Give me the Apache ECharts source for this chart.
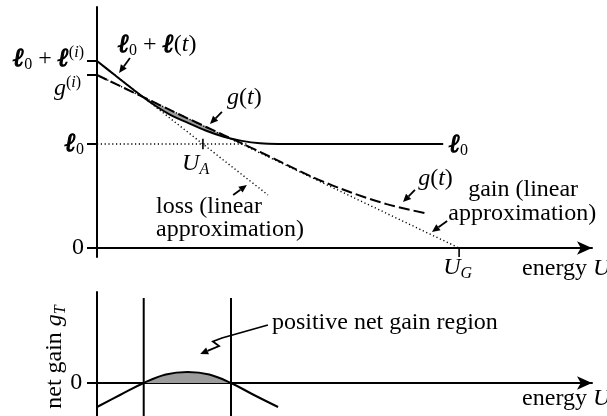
<!DOCTYPE html>
<html>
<head>
<meta charset="utf-8">
<script src="https://cdn.jsdelivr.net/npm/echarts@6/dist/echarts.min.js"></script>
<style>
  html, body { margin: 0; padding: 0; background: #fff; }
  #chart { width: 607px; height: 416px; }
</style>
</head>
<body>
<div id="chart"></div>
<script>
// Energy U is measured in units of U_G, loss/gain in units of l0.
const energy    = [0, 0.05, 0.10, 0.15, 0.20, 0.25, 0.30, 0.35, 0.40, 0.45, 0.50, 0.956];
const lossTotal = [1.798, 1.66, 1.524, 1.394, 1.285, 1.205, 1.13, 1.07, 1.03, 1.006, 1.0, 1.0];
const gainEnergy = [0, 0.05, 0.10, 0.15, 0.20, 0.25, 0.30, 0.35, 0.40, 0.45, 0.50, 0.60, 0.70, 0.80, 0.912];
const gainValues = [1.663, 1.580, 1.497, 1.414, 1.330, 1.247, 1.166, 1.086, 1.006, 0.924, 0.840, 0.674, 0.536, 0.422, 0.33];
const lossLinear = [[0, 1.798], [0.472, 0.51]];
const gainLinear = [[0, 1.663], [1.0, 0]];
const l0 = 1.0;
const lossInit = 1.798;
const gainInit = 1.663;
const U_A = 0.2925;
const U_G = 1.0;
// net gain g_T = g - l (arbitrary units)
const netEnergy = [0, 0.0635, 0.129, 0.19, 0.25, 0.31, 0.37, 0.4335, 0.5];
const netGain   = [-2.4, -1.2, 0, 0.85, 1.1, 0.85, 0, -1.2, -2.4];
const netZeros  = [0.129, 0.37];

const FONT = '"Liberation Serif","Times New Roman",serif';
const BLACK = '#000';
const SHADE = '#9c9c9c';

const zip = (xs, ys) => xs.map((x, i) => [x, ys[i]]);
function interp(xs, ys, x) {
  for (let i = 0; i < xs.length - 1; i++) {
    if (x >= xs[i] && x <= xs[i + 1]) {
      const t = (x - xs[i]) / (xs[i + 1] - xs[i]);
      return ys[i] + t * (ys[i + 1] - ys[i]);
    }
  }
  return ys[ys.length - 1];
}

// Region where gain exceeds loss: bounded by the two crossings
function shadeRegion() {
  const xs = energy.filter(u => u <= 0.5);
  const diff = xs.map(u => interp(gainEnergy, gainValues, u) - interp(energy, lossTotal, u));
  const cross = [];
  for (let i = 0; i < xs.length - 1; i++) {
    if ((diff[i] <= 0 && diff[i + 1] > 0) || (diff[i] > 0 && diff[i + 1] <= 0)) {
      cross.push(xs[i] + (xs[i + 1] - xs[i]) * diff[i] / (diff[i] - diff[i + 1]));
    }
  }
  const [c1, c2] = cross;
  const inner = xs.filter(u => u > c1 && u < c2);
  const us = [c1, ...inner, c2];
  const lower = us.map(u => [u, interp(energy, lossTotal, u)]);
  const upper = us.slice().reverse().map(u => [u, interp(gainEnergy, gainValues, u)]);
  return lower.concat(upper);
}
const shadePts = shadeRegion();

const axisLineStyle = { color: BLACK, width: 2 };

const chart = echarts.init(document.getElementById('chart'), null, { renderer: 'canvas' });

const option = {
  animation: false,
  backgroundColor: '#fff',
  grid: [
    { left: 97, right: 15, top: 7, height: 250, outerBoundsMode: 'none' },
    { left: 97, right: 15, top: 292, height: 124, outerBoundsMode: 'none' }
  ],
  xAxis: [0, 1].map(g => ({
    type: 'value', gridIndex: g, min: 0, max: 1.367,
    axisLine: { show: true, onZero: true, symbol: ['none', 'arrow'], symbolSize: [10, 15], lineStyle: axisLineStyle },
    axisTick: { show: false }, axisLabel: { show: false }, splitLine: { show: false }
  })),
  yAxis: [
    {
      type: 'value', gridIndex: 0, min: -0.0865, max: 2.317,
      axisLine: { show: true, onZero: false, lineStyle: axisLineStyle },
      axisTick: { show: true, length: 10, customValues: [0, l0, gainInit, lossInit], lineStyle: axisLineStyle },
      axisLabel: { show: false }, splitLine: { show: false }
    },
    {
      type: 'value', gridIndex: 1, min: -3.3, max: 9.1,
      axisLine: { show: true, onZero: false, lineStyle: axisLineStyle },
      axisTick: { show: true, length: 10, customValues: [0], lineStyle: axisLineStyle },
      axisLabel: { show: false }, splitLine: { show: false }
    }
  ],
  series: [
    // shaded positive net-gain area between the loss and gain curves
    {
      type: 'custom', xAxisIndex: 0, yAxisIndex: 0, silent: true, z: 1,
      data: [[0, 0]],
      renderItem: (params, api) => ({
        type: 'polygon',
        shape: { points: shadePts.map(p => api.coord(p)) },
        style: { fill: SHADE }
      })
    },
    // linear approximations and the l0 level
    {
      type: 'line', xAxisIndex: 0, yAxisIndex: 0, data: lossLinear, symbol: 'none', z: 2,
      lineStyle: { color: BLACK, width: 1.4, type: [1.2, 2.6] }
    },
    {
      type: 'line', xAxisIndex: 0, yAxisIndex: 0, data: gainLinear, symbol: 'none', z: 2,
      lineStyle: { color: BLACK, width: 1.4, type: [1.2, 2.6] }
    },
    {
      type: 'line', xAxisIndex: 0, yAxisIndex: 0, data: [[0, l0], [0.42, l0]], symbol: 'none', z: 2,
      lineStyle: { color: BLACK, width: 1.4, type: [1.2, 2.6] }
    },
    // l0 + l(t)
    {
      type: 'line', xAxisIndex: 0, yAxisIndex: 0, data: zip(energy, lossTotal), symbol: 'none',
      smooth: 0.3, z: 4, lineStyle: { color: BLACK, width: 2 }
    },
    // g(t)
    {
      type: 'line', xAxisIndex: 0, yAxisIndex: 0, data: zip(gainEnergy, gainValues), symbol: 'none',
      smooth: 0.3, z: 4, lineStyle: { color: BLACK, width: 2, type: [11, 4] }
    },
    // U_A and U_G ticks
    {
      type: 'line', xAxisIndex: 0, yAxisIndex: 0, data: [[U_A, l0 - 0.05], [U_A, l0 + 0.05]], symbol: 'none',
      lineStyle: { color: BLACK, width: 1.6 }
    },
    {
      type: 'line', xAxisIndex: 0, yAxisIndex: 0, data: [[U_G, 0], [U_G, -0.0865]], symbol: 'none',
      lineStyle: { color: BLACK, width: 1.6 }
    },
    // net gain: positive part shaded
    {
      type: 'line', xAxisIndex: 1, yAxisIndex: 1,
      data: zip(netEnergy, netGain).filter(p => p[1] >= 0), symbol: 'none', smooth: 0.4, z: 1,
      lineStyle: { width: 0 }, areaStyle: { color: SHADE, opacity: 1, origin: 0 }
    },
    {
      type: 'line', xAxisIndex: 1, yAxisIndex: 1, data: zip(netEnergy, netGain), symbol: 'none',
      smooth: 0.4, z: 4, lineStyle: { color: BLACK, width: 2 }
    },
    ...netZeros.map(u => ({
      type: 'line', xAxisIndex: 1, yAxisIndex: 1, data: [[u, -3.3], [u, 8.5]], symbol: 'none', z: 3,
      lineStyle: { color: BLACK, width: 2 }
    }))
  ]
};
chart.setOption(option);

// ---- annotations (text and arrows), anchored in data coordinates ----
const base = { fontFamily: FONT, fontSize: 24, fill: BLACK, color: BLACK, lineHeight: 28 };
const small = { fontFamily: FONT, fontSize: 16, fill: BLACK, color: BLACK, lineHeight: 12 };
const rich = {
  r: { ...base },
  i: { ...base, fontStyle: 'italic' },
  // heavy script l: bold italic glyph with a thin outline for weight
  l: {
    ...base, fontFamily: '"DejaVu Serif","Liberation Serif",serif', fontSize: 26,
    fontWeight: 'bold', fontStyle: 'italic', stroke: BLACK, lineWidth: 1.1
  },
  sb: { ...small, verticalAlign: 'bottom' },
  sbi: { ...small, fontStyle: 'italic', verticalAlign: 'bottom' },
  sp: { ...small, verticalAlign: 'top' },
  spi: { ...small, fontStyle: 'italic', verticalAlign: 'top' }
};

const texts = [
  { g: 0, at: [-0.036, 1.817], align: 'right', text: '{l|ℓ}{sb|0}{r| + }{l|ℓ}{sp|(}{spi|i}{sp|)}' },
  { g: 0, at: [-0.044, 1.53], align: 'right', text: '{i|g}{sp|(}{spi|i}{sp|)}' },
  { g: 0, at: [-0.036, 1.0], align: 'right', text: '{l|ℓ}{sb|0}' },
  { g: 0, at: [-0.036, 0.0], align: 'right', text: '{r|0}' },
  { g: 0, at: [0.058, 1.952], align: 'left', text: '{l|ℓ}{sb|0}{r| + }{l|ℓ}{r|(}{i|t}{r|)}' },
  { g: 0, at: [0.359, 1.446], align: 'left', text: '{i|g}{r|(}{i|t}{r|)}' },
  { g: 0, at: [0.235, 0.808], align: 'left', text: '{i|U}{sbi|A}' },
  { g: 0, at: [0.163, 0.394], align: 'left', text: '{r|loss (linear}' },
  { g: 0, at: [0.163, 0.178], align: 'left', text: '{r|approximation)}' },
  { g: 0, at: [0.972, 0.99], align: 'left', text: '{l|ℓ}{sb|0}' },
  { g: 0, at: [0.887, 0.663], align: 'left', text: '{i|g}{r|(}{i|t}{r|)}' },
  { g: 0, at: [1.025, 0.558], align: 'left', text: '{r|gain (linear}' },
  { g: 0, at: [0.970, 0.327], align: 'left', text: '{r|approximation)}' },
  { g: 0, at: [0.956, -0.192], align: 'left', text: '{i|U}{sbi|G}' },
  { g: 0, at: [1.174, -0.202], align: 'left', text: '{r|energy }{i|U}' },
  { g: 1, at: [1.174, -1.6], align: 'left', text: '{r|energy }{i|U}' },
  { g: 1, at: [0.483, 6.0], align: 'left', text: '{r|positive net gain region}' },
  { g: 1, at: [-0.041, 0.0], align: 'right', text: '{r|0}' },
  { g: 1, at: [-0.116, 2.6], align: 'center', rotate: true, text: '{r|net gain }{i|g}{sbi|T}' }
];

const arrows = [
  { g: 0, pts: [[0.091, 1.827], [0.061, 1.683]] },
  { g: 0, pts: [[0.345, 1.308], [0.312, 1.192]] },
  { g: 0, pts: [[0.376, 0.510], [0.414, 0.606]] },
  { g: 0, pts: [[0.878, 0.558], [0.845, 0.442]] },
  { g: 0, pts: [[0.967, 0.260], [0.925, 0.154]] },
  { g: 1, pts: [[0.472, 5.8], [0.345, 4.5], [0.32, 4.15], [0.337, 3.7], [0.285, 2.9]] }
];

const toPx = (g, p) => chart.convertToPixel({ xAxisIndex: g, yAxisIndex: g }, p);
const graphics = [];

texts.forEach(t => {
  const [x, y] = toPx(t.g, t.at);
  graphics.push({
    type: 'text', x, y, rotation: t.rotate ? Math.PI / 2 : 0, z: 10,
    style: { text: t.text, rich, align: t.align, verticalAlign: 'middle', fontFamily: FONT, fontSize: 24, fill: BLACK }
  });
});

arrows.forEach(a => {
  const px = a.pts.map(p => toPx(a.g, p));
  const [hx, hy] = px[px.length - 1];
  const [qx, qy] = px[px.length - 2];
  const len = Math.hypot(hx - qx, hy - qy);
  const ux = (hx - qx) / len, uy = (hy - qy) / len;
  const headLen = 8, headHalf = 3.6;
  const bx = hx - ux * headLen, by = hy - uy * headLen;
  const body = px.slice(0, -1).concat([[bx, by]]);
  graphics.push({
    type: 'polyline', z: 10, shape: { points: body },
    style: { stroke: BLACK, lineWidth: 1.8, fill: null }
  });
  graphics.push({
    type: 'polygon', z: 10,
    shape: { points: [[hx, hy], [bx - uy * headHalf, by + ux * headHalf], [bx + uy * headHalf, by - ux * headHalf]] },
    style: { fill: BLACK }
  });
});

chart.setOption({ graphic: graphics });
</script>
</body>
</html>
